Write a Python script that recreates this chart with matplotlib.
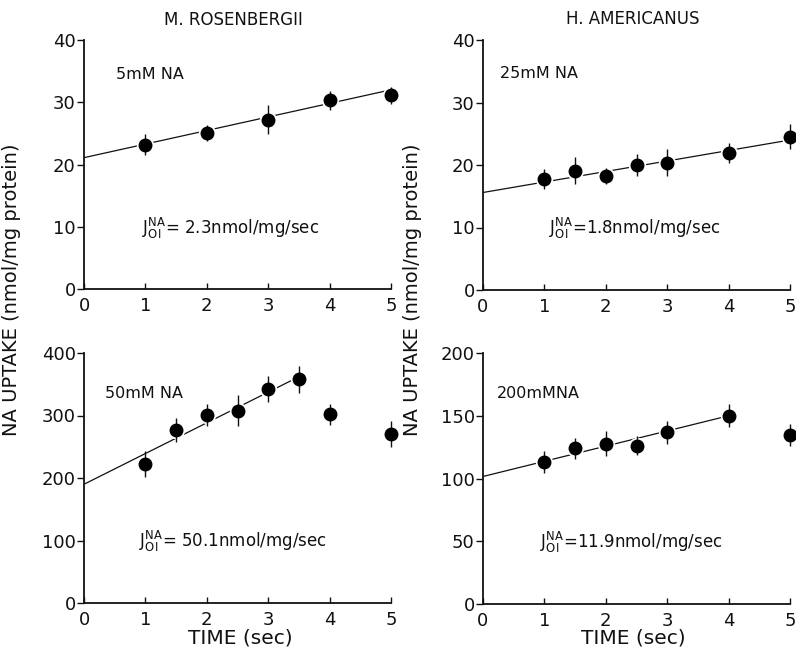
import matplotlib
matplotlib.use("Agg")
import matplotlib.pyplot as plt

# ---- data ----
# Top-left: M. rosenbergii, 5 mM Na
tl_t = [1, 2, 3, 4, 5]
tl_y = [23.2, 25.1, 27.2, 30.3, 31.1]
tl_e = [1.7, 1.3, 2.3, 1.5, 1.4]
tl_fit_t = [0, 5]
tl_fit_y = [21.1, 32.0]

# Top-right: H. americanus, 25 mM Na
tr_t = [1, 1.5, 2, 2.5, 3, 4, 5]
tr_y = [17.8, 19.1, 18.2, 20.0, 20.4, 22.0, 24.5]
tr_e = [1.6, 2.1, 1.3, 1.7, 2.2, 1.6, 2.0]
tr_fit_t = [0, 5]
tr_fit_y = [15.6, 24.0]

# Bottom-left: M. rosenbergii, 50 mM Na
bl_t = [1, 1.5, 2, 2.5, 3, 3.5, 4, 5]
bl_y = [223, 277, 301, 308, 342, 358, 302, 271]
bl_e = [21, 19, 18, 25, 21, 22, 17, 21]
bl_fit_t = [0, 3.5]
bl_fit_y = [190, 362]

# Bottom-right: H. americanus, 200 mM Na
br_t = [1, 1.5, 2, 2.5, 3, 4, 5]
br_y = [113.3, 124, 127.7, 126, 136.7, 150, 134.6]
br_e = [9, 8.6, 10, 7.5, 9, 9.3, 8.6]
br_fit_t = [0, 4]
br_fit_y = [101.6, 150]

x_ticks = [0, 1, 2, 3, 4, 5]
x_tick_labels = ["0", "1", "2", "3", "4", "5"]
top_yticks = [0, 10, 20, 30, 40]
bl_yticks = [0, 100, 200, 300, 400]
br_yticks = [0, 50, 100, 150, 200]

conc_labels = ["5mM NA", "25mM NA", "50mM NA", "200mMNA"]
flux_texts = ["= 2.3nmol/mg/sec", "=1.8nmol/mg/sec", "= 50.1nmol/mg/sec", "=11.9nmol/mg/sec"]
titles = ["M. ROSENBERGII", "H. AMERICANUS"]

plt.rcParams["font.family"] = ["DejaVu Sans"]
plt.rcParams["mathtext.fontset"] = "dejavusans"
INK = "#111111"

W, H = 796, 663
fig = plt.figure(figsize=(W / 100, H / 100), dpi=100)

def px_axes(left, right, top, bottom):
    return fig.add_axes([left / W, 1 - bottom / H, (right - left) / W, (bottom - top) / H])

panels = [
    (px_axes(84, 391, 40, 289), tl_t, tl_y, tl_e, tl_fit_t, tl_fit_y, top_yticks, (0, 40), conc_labels[0], flux_texts[0]),
    (px_axes(483, 790, 40, 290), tr_t, tr_y, tr_e, tr_fit_t, tr_fit_y, top_yticks, (0, 40), conc_labels[1], flux_texts[1]),
    (px_axes(84, 391, 353, 603), bl_t, bl_y, bl_e, bl_fit_t, bl_fit_y, bl_yticks, (0, 400), conc_labels[2], flux_texts[2]),
    (px_axes(483, 790, 353, 604), br_t, br_y, br_e, br_fit_t, br_fit_y, br_yticks, (0, 200), conc_labels[3], flux_texts[3]),
]

conc_pos = [(0.105, 0.86), (0.055, 0.865), (0.07, 0.84), (0.045, 0.84)]
flux_pos = [(0.19, 0.245), (0.215, 0.245), (0.18, 0.245), (0.185, 0.245)]

for i, (ax, t, y, e, ft, fy, yt, ylim, conc, flux) in enumerate(panels):
    ax.plot(ft, fy, color=INK, lw=0.9, zorder=1, solid_capstyle="butt")
    ax.plot(t, y, "o", ms=11.5, color="white", zorder=2, clip_on=False)
    ax.errorbar(t, y, yerr=e, fmt="o", ms=9, color="black", ecolor=INK,
                elinewidth=1.0, capsize=0, zorder=3, clip_on=False)
    ax.set_xlim(0, 5)
    ax.set_ylim(*ylim)
    ax.set_xticks(x_ticks)
    ax.set_xticklabels(x_tick_labels)
    ax.set_yticks(yt)
    ax.set_yticklabels([str(v) for v in yt])
    for s in ["top", "right"]:
        ax.spines[s].set_visible(False)
    for s in ["left", "bottom"]:
        ax.spines[s].set_linewidth(1.3)
        ax.spines[s].set_color(INK)
    ax.tick_params(axis="y", direction="out", length=5, width=1.0, pad=1,
                   labelsize=13, colors=INK)
    ax.tick_params(axis="x", direction="in", length=4, width=1.0, pad=6,
                   labelsize=13, colors=INK)
    ax.patch.set_visible(False)
    ax.text(conc_pos[i][0], conc_pos[i][1], conc, transform=ax.transAxes,
            fontsize=11.5, color=INK, ha="left", va="center")
    ax.text(flux_pos[i][0], flux_pos[i][1],
            r"$\mathrm{J}^{\mathrm{NA}}_{\mathrm{OI}}$" + flux, transform=ax.transAxes,
            fontsize=12, color=INK, ha="left", va="center")

fig.text(233 / W, 1 - 20 / H, titles[0], ha="center", va="center", fontsize=12, color=INK)
fig.text(633 / W, 1 - 19 / H, titles[1], ha="center", va="center", fontsize=12, color=INK)

for xp in (12, 412):
    fig.text(xp / W, 1 - 290 / H, "NA UPTAKE (nmol/mg protein)", rotation=90,
             ha="center", va="center", fontsize=14, color=INK)

for xp in (240, 633):
    fig.text(xp / W, 1 - 638 / H, "TIME (sec)", ha="center", va="center",
             fontsize=14.5, color=INK)

fig.savefig("out.png", dpi=100)
